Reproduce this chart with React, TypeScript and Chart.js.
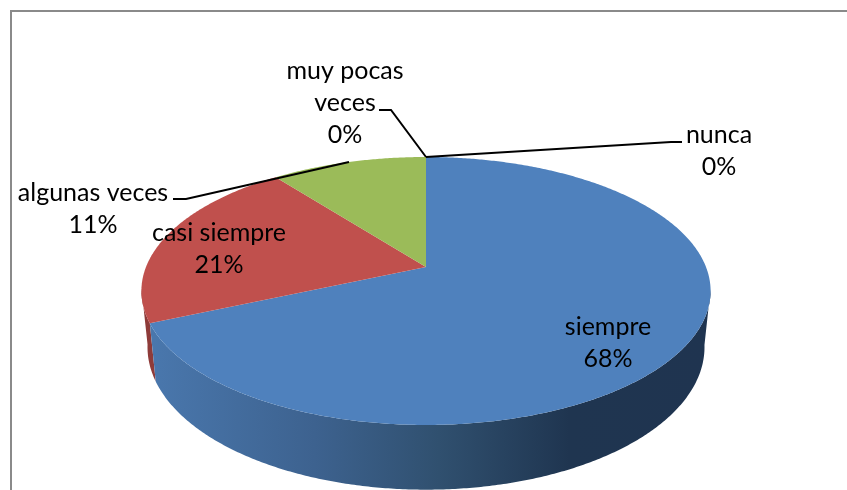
import React, { useEffect, useRef } from "react";
import { Chart, registerables } from "chart.js";

Chart.register(...registerables);

const categories = ["siempre", "casi siempre", "algunas veces", "muy pocas veces", "nunca"];
const values = [68.4, 21.1, 10.5, 0, 0];
const topColors = ["#4f81bd", "#c0504d", "#9bbb59", "#8064a2", "#4bacc6"];
const sideColors = ["#3d628f", "#8e3b39", "#738b42", "#5f4a78", "#387f93"];

const FONT = '25px Lato, "Open Sans", sans-serif';
const LINE = 32;
// label block: centre x, first line middle y, lines of the category name
const labelLayout = [
  { x: 608, y: 327, lines: ["siempre"] },
  { x: 219, y: 233, lines: ["casi siempre"] },
  { x: 93, y: 193, lines: ["algunas veces"] },
  { x: 345, y: 71, lines: ["muy pocas", "veces"] },
  { x: 719, y: 135, lines: ["nunca"] },
];
const leaderLines = [
  [[173, 199], [186, 199], [349, 162]],
  [[379, 110], [391, 110], [426, 157]],
  [[682, 142], [671, 142], [426, 157]],
];

const K = -0.179;
const top3d = { cx: 426, y0: 267, a: 280, b: 129.7 };
const bottom3d = { cx: 426, y0: 321.6, a: 274, b: 138 };

function project(p: typeof top3d, angle: number) {
  const theta = angle + Math.PI / 2;
  const u = Math.sin(theta);
  const v = -Math.cos(theta);
  const w = 1 + K * v;
  return { x: p.cx + (p.a * u) / w, y: p.y0 + (p.b * v) / w, v };
}

const pie3d = {
  id: "pie3d",
  beforeDatasetsDraw(chart: any) {
    const ctx = chart.ctx as CanvasRenderingContext2D;
    const arcs = chart.getDatasetMeta(0).data as any[];
    const STEP = Math.PI / 360;
    const FRONT = 0.16; // rim points further back than this are hidden by the top face

    // frame
    ctx.save();
    ctx.fillStyle = "#ffffff";
    ctx.fillRect(0, 0, chart.width, chart.height);
    ctx.strokeStyle = "#8a8a8a";
    ctx.lineWidth = 2;
    ctx.beginPath();
    ctx.moveTo(11, chart.height);
    ctx.lineTo(11, 11);
    ctx.lineTo(chart.width, 11);
    ctx.stroke();

    // side walls, back to front
    for (let i = arcs.length - 1; i >= 0; i--) {
      const { startAngle, endAngle } = arcs[i];
      if (endAngle - startAngle <= 0) continue;
      let paint: any = sideColors[i];
      if (i === 0) {
        const g = ctx.createLinearGradient(145, 0, 711, 0);
        g.addColorStop(0, "#4a78ae");
        g.addColorStop(0.3, "#3d628f");
        g.addColorStop(0.52, "#30506f");
        g.addColorStop(0.75, "#1f3550");
        g.addColorStop(1, "#1f3450");
        paint = g;
      }
      const angles: number[] = [];
      for (let a = startAngle; a < endAngle; a += STEP) {
        if (project(top3d, a).v >= FRONT) angles.push(a);
      }
      if (project(top3d, endAngle).v >= FRONT) angles.push(endAngle);
      if (angles.length < 2) continue;
      ctx.fillStyle = paint;
      ctx.beginPath();
      angles.forEach((a, n) => {
        const p = project(top3d, a);
        if (n) ctx.lineTo(p.x, p.y);
        else ctx.moveTo(p.x, p.y);
      });
      [...angles].reverse().forEach((a) => {
        const p = project(bottom3d, a);
        ctx.lineTo(p.x, p.y);
      });
      ctx.closePath();
      ctx.fill();
    }

    // top face
    arcs.forEach((arc) => {
      const { startAngle, endAngle } = arc;
      if (endAngle - startAngle <= 0) return;
      ctx.fillStyle = arc.options.backgroundColor;
      ctx.beginPath();
      ctx.moveTo(top3d.cx, top3d.y0);
      for (let a = startAngle; a < endAngle; a += STEP) {
        const p = project(top3d, a);
        ctx.lineTo(p.x, p.y);
      }
      const e = project(top3d, endAngle);
      ctx.lineTo(e.x, e.y);
      ctx.closePath();
      ctx.fill();
    });

    // leader lines
    ctx.strokeStyle = "#000000";
    ctx.lineWidth = 2;
    leaderLines.forEach((pts) => {
      ctx.beginPath();
      pts.forEach(([x, y], n) => (n ? ctx.lineTo(x, y) : ctx.moveTo(x, y)));
      ctx.stroke();
    });

    // labels
    const total = values.reduce((s, v) => s + v, 0);
    ctx.fillStyle = "#000000";
    ctx.font = FONT;
    ctx.textAlign = "center";
    ctx.textBaseline = "middle";
    labelLayout.forEach((l, i) => {
      const texts = [...l.lines, `${Math.round((values[i] / total) * 100)}%`];
      texts.forEach((t, n) => ctx.fillText(t, l.x, l.y + n * LINE));
    });
    ctx.restore();
    return false;
  },
};

export default function App() {
  const ref = useRef<HTMLCanvasElement>(null);
  useEffect(() => {
    if (!ref.current) return;
    const chart = new Chart(ref.current, {
      type: "pie",
      data: {
        labels: categories,
        datasets: [{ data: values, backgroundColor: topColors, borderWidth: 0 }],
      },
      options: {
        responsive: false,
        animation: false,
        plugins: { legend: { display: false }, tooltip: { enabled: false } },
      },
      plugins: [pie3d],
    } as any);
    return () => chart.destroy();
  }, []);
  return (
    <div style={{ position: "absolute", left: 0, top: 0, width: 847, height: 490, background: "#fff" }}>
      <canvas ref={ref} width={847} height={490} style={{ display: "block" }} />
    </div>
  );
}
